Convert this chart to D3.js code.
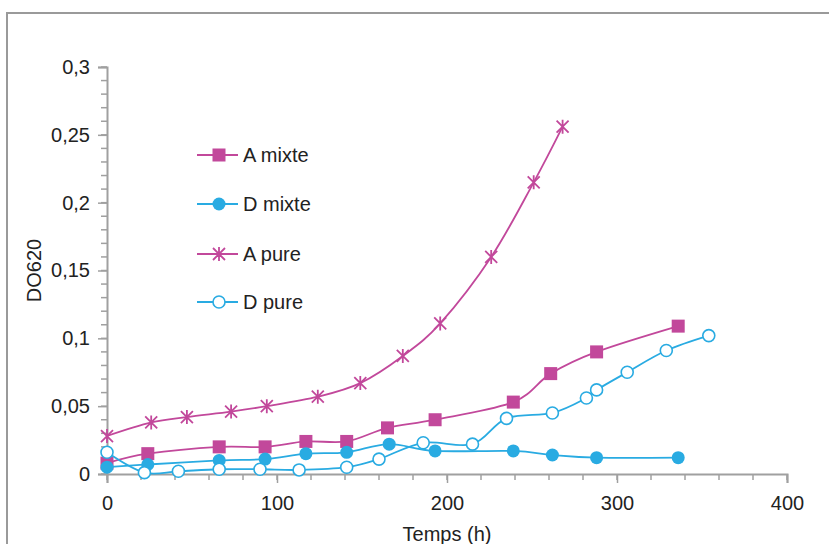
<!DOCTYPE html>
<html><head><meta charset="utf-8">
<script src="https://cdn.jsdelivr.net/npm/d3@7"></script>
<style>body{margin:0;background:#fff}svg{display:block}</style>
</head><body>
<script>
const seriesNames = ["A mixte", "D mixte", "A pure", "D pure"];
const aMixteT = [0, 24, 66, 93, 117, 141, 165, 193, 239, 261, 288, 336];
const aMixteV = [0.008, 0.015, 0.020, 0.020, 0.024, 0.024, 0.034, 0.040, 0.053, 0.074, 0.090, 0.109];
const dMixteT = [0, 24, 66, 93, 117, 141, 166, 193, 239, 262, 288, 336];
const dMixteV = [0.005, 0.007, 0.010, 0.011, 0.015, 0.016, 0.022, 0.017, 0.017, 0.014, 0.012, 0.012];
const aPureT = [0, 26, 47, 73, 94, 124, 149, 174, 196, 226, 251, 268];
const aPureV = [0.028, 0.038, 0.042, 0.046, 0.050, 0.057, 0.067, 0.087, 0.111, 0.160, 0.215, 0.256];
const dPureT = [0, 22, 42, 66, 90, 113, 141, 160, 186, 215, 235, 262, 282, 288, 306, 329, 354];
const dPureV = [0.016, 0.001, 0.002, 0.0035, 0.0035, 0.003, 0.005, 0.011, 0.023, 0.022, 0.041, 0.045, 0.056, 0.062, 0.075, 0.091, 0.102];
const xTicks = [0, 100, 200, 300, 400];
const yTicks = [0, 0.05, 0.1, 0.15, 0.2, 0.25, 0.3];
const xTitle = "Temps (h)";
const yTitle = "DO620";

const W = 829, H = 544;
const PINK = "#c2489b", BLUE = "#29abe2", AXIS = "#a0a0a0";
const FONT = "'Liberation Sans', Arial, sans-serif";
const FS = "20px";

const svg = d3.select("body").append("svg").attr("width", W).attr("height", H);
svg.append("rect").attr("x", 7).attr("y", 13).attr("width", 900).attr("height", 600)
  .attr("fill", "#fff").attr("stroke", "#9a9a9a").attr("stroke-width", 2);

const x = d3.scaleLinear().domain([0, 400]).range([107, 787]);
const y = d3.scaleLinear().domain([0, 0.3]).range([474, 67]);

// minor ticks
const g = svg.append("g");
g.selectAll(".ymin").data(d3.range(0, 0.3001, 0.01)).join("line")
  .attr("x1", x(0) - 6).attr("x2", x(0)).attr("y1", d => y(d)).attr("y2", d => y(d))
  .attr("stroke", AXIS).attr("stroke-width", 1.5);
g.selectAll(".xmin").data(d3.range(0, 401, 20)).join("line")
  .attr("y1", y(0)).attr("y2", y(0) + 6).attr("x1", d => x(d)).attr("x2", d => x(d))
  .attr("stroke", AXIS).attr("stroke-width", 1.5);

const fmt = d => d3.format("~g")(d).replace(".", ",");
const yAxis = d3.axisLeft(y).tickValues(yTicks).tickSize(9).tickPadding(8).tickFormat(fmt);
const xAxis = d3.axisBottom(x).tickValues(xTicks).tickSize(9).tickPadding(13).tickFormat(fmt);
const ya = svg.append("g").attr("transform", `translate(${x(0)},0)`).call(yAxis);
const xa = svg.append("g").attr("transform", `translate(0,${y(0)})`).call(xAxis);
[ya, xa].forEach(a => {
  a.select(".domain").attr("stroke", AXIS).attr("stroke-width", 2);
  a.selectAll(".tick line").attr("stroke", AXIS).attr("stroke-width", 1.5);
  a.selectAll("text").attr("fill", "#222").style("font-family", FONT).style("font-size", FS);
});

svg.append("text").attr("transform", `translate(41,${y(0.15)}) rotate(-90)`)
  .attr("text-anchor", "middle").style("font-family", FONT).style("font-size", FS)
  .attr("fill", "#222").text(yTitle);
svg.append("text").attr("x", 447).attr("y", 541).attr("text-anchor", "middle")
  .style("font-family", FONT).style("font-size", FS).attr("fill", "#222").text(xTitle);

const line = d3.line().x(d => x(d[0])).y(d => y(d[1])).curve(d3.curveCardinal.tension(0));
const series = [
  {name: seriesNames[0], t: aMixteT, v: aMixteV, color: PINK, marker: "square"},
  {name: seriesNames[1], t: dMixteT, v: dMixteV, color: BLUE, marker: "dot"},
  {name: seriesNames[2], t: aPureT, v: aPureV, color: PINK, marker: "star"},
  {name: seriesNames[3], t: dPureT, v: dPureV, color: BLUE, marker: "circle"}
];

function drawMarker(sel, type, color) {
  if (type === "square") {
    sel.append("rect").attr("x", -6.5).attr("y", -6.5).attr("width", 13).attr("height", 13).attr("fill", color);
  } else if (type === "dot") {
    sel.append("circle").attr("r", 6.5).attr("fill", color);
  } else if (type === "circle") {
    sel.append("circle").attr("r", 6).attr("fill", "#fff").attr("stroke", color).attr("stroke-width", 1.6);
  } else {
    const s = 6;
    sel.append("path").attr("d", `M${-s},${-s}L${s},${s}M${-s},${s}L${s},${-s}M0,${-s - 1}L0,${s + 1}`)
      .attr("stroke", color).attr("stroke-width", 1.8).attr("fill", "none");
  }
}

series.forEach(s => {
  const pts = s.t.map((t, i) => [t, s.v[i]]);
  svg.append("path").datum(pts).attr("d", line).attr("fill", "none")
    .attr("stroke", s.color).attr("stroke-width", 1.8);
  svg.append("g").selectAll("g").data(pts).join("g")
    .attr("transform", d => `translate(${x(d[0])},${y(d[1])})`)
    .each(function() { drawMarker(d3.select(this), s.marker, s.color); });
});

// legend
const legY = [155, 204, 254, 302];
series.forEach((s, i) => {
  const lg = svg.append("g").attr("transform", `translate(0,${legY[i]})`);
  lg.append("line").attr("x1", 197).attr("x2", 238).attr("stroke", s.color).attr("stroke-width", 1.8);
  const m = lg.append("g").attr("transform", "translate(219,0)");
  drawMarker(m, s.marker, s.color);
  lg.append("text").attr("x", 243).attr("y", 7).style("font-family", FONT).style("font-size", FS)
    .attr("fill", "#222").text(s.name);
});
</script>
</body></html>
